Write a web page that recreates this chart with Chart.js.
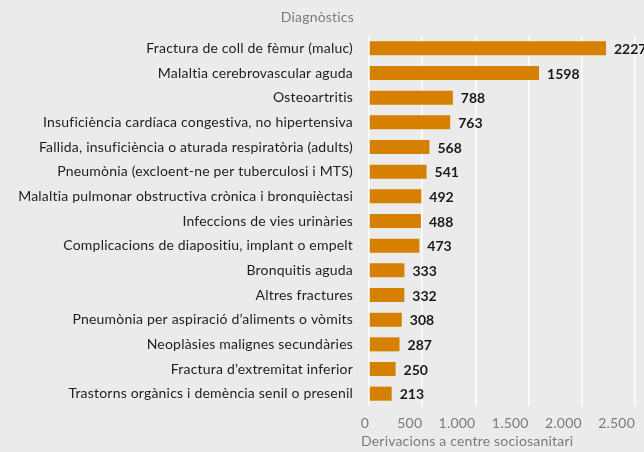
<!DOCTYPE html>
<html>
<head>
<meta charset="utf-8">
<script src="https://cdn.jsdelivr.net/npm/chart.js@4/dist/chart.umd.min.js"></script>
<style>
  html, body { margin: 0; padding: 0; background: #ebebeb; }
  #wrap { width: 644px; height: 452px; position: relative; }
</style>
</head>
<body>
<div id="wrap"><canvas id="c" width="644" height="452"></canvas></div>
<script>
const categories = [
  "Fractura de coll de fèmur (maluc)",
  "Malaltia cerebrovascular aguda",
  "Osteoartritis",
  "Insuficiència cardíaca congestiva, no hipertensiva",
  "Fallida, insuficiència o aturada respiratòria (adults)",
  "Pneumònia (excloent-ne per tuberculosi i MTS)",
  "Malaltia pulmonar obstructiva crònica i bronquièctasi",
  "Infeccions de vies urinàries",
  "Complicacions de diapositiu, implant o empelt",
  "Bronquitis aguda",
  "Altres fractures",
  "Pneumònia per aspiració d’aliments o vòmits",
  "Neoplàsies malignes secundàries",
  "Fractura d’extremitat inferior",
  "Trastorns orgànics i demència senil o presenil"
];
const derivacions = [2227, 1598, 788, 763, 568, 541, 492, 488, 473, 333, 332, 308, 287, 250, 213];
const xTicks = [0, 500, 1000, 1500, 2000, 2500];
const yTitle = "Diagnòstics";
const xTitle = "Derivacions a centre sociosanitari";

const FONT = "Lato, 'Noto Sans', sans-serif";
const fmt = v => String(v).replace(/\B(?=(\d{3})+(?!\d))/g, '.');

const extras = {
  id: 'extras',
  beforeDraw(chart) {
    chart.ctx.letterSpacing = '0.2px';
  },
  afterDatasetsDraw(chart) {
    const ctx = chart.ctx;
    const meta = chart.getDatasetMeta(0);
    ctx.save();
    ctx.letterSpacing = '0px';
    ctx.font = "bold 14px " + FONT;
    ctx.fillStyle = "#1a1a1a";
    ctx.textAlign = "left";
    ctx.textBaseline = "middle";
    meta.data.forEach((bar, i) => {
      ctx.fillText(String(derivacions[i]), bar.x + 8, bar.y + 1);
    });
    ctx.restore();
  },
  afterDraw(chart) {
    const ctx = chart.ctx;
    const a = chart.chartArea;
    ctx.save();
    ctx.font = "14px " + FONT;
    ctx.fillStyle = "#7a7a7a";
    ctx.textBaseline = "middle";
    ctx.textAlign = "right";
    ctx.fillText(yTitle, a.left - 15, 17);
    ctx.textAlign = "left";
    ctx.fillText(xTitle, a.left - 8, 441);
    ctx.restore();
  }
};

new Chart(document.getElementById('c'), {
  type: 'bar',
  data: {
    labels: categories,
    datasets: [{
      data: derivacions,
      backgroundColor: '#d68000',
      borderWidth: 0,
      barPercentage: 0.57,
      categoryPercentage: 1.0
    }]
  },
  options: {
    indexAxis: 'y',
    responsive: false,
    animation: false,
    events: [],
    layout: { padding: { top: 36, right: 8, left: 0, bottom: 0 } },
    plugins: { legend: { display: false }, tooltip: { enabled: false }, title: { display: false } },
    scales: {
      x: {
        min: 0, max: 2500,
        afterBuildTicks(scale) { scale.ticks = xTicks.map(v => ({ value: v })); },
        afterFit(scale) { scale.height = 46; },
        grid: { color: '#ffffff', lineWidth: 1.5, drawTicks: false },
        border: { display: false },
        ticks: {
          align: 'end',
          padding: 9,
          color: '#7a7a7a',
          font: { family: FONT, size: 14 },
          callback: v => fmt(v)
        }
      },
      y: {
        afterFit(scale) { scale.width = 369; },
        grid: { display: false, drawTicks: false },
        border: { display: false },
        ticks: {
          padding: 16,
          color: '#1e1e1e',
          font: { family: FONT, size: 14 },
          autoSkip: false
        }
      }
    }
  },
  plugins: [extras]
});
</script>
</body>
</html>
